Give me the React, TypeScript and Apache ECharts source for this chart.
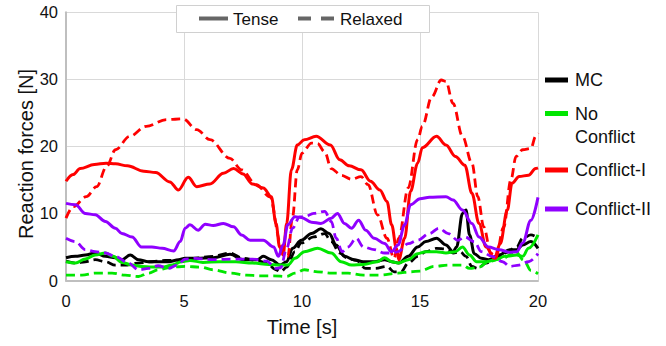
import React, { useEffect, useRef } from "react";
import * as echarts from "echarts";

type Pt = [number, number];

const FONT = "'Liberation Sans', Arial, sans-serif";

const xTicks = [0, 5, 10, 15, 20];
const yTicks = [0, 10, 20, 30, 40];
const xTitle = "Time [s]";
const yTitle = "Reaction forces [N]";

const groups = ["MC", "No Conflict", "Conflict-I", "Conflict-II"];
const groupColors = ["#000000", "#00e600", "#ff0000", "#9000ff"];
const styles = ["Tense", "Relaxed"];

const mcTense: Pt[] = [[0,3.4],[0.4,3.6],[0.82,3.8],[1.24,4.1],[1.67,3.6],[2.09,3.4],[2.37,3.1],[2.72,3.8],[3.07,3.1],[3.5,2.8],[3.9,2.8],[4.35,2.8],[4.77,3.1],[5.05,3.3],[5.54,3.3],[6.24,3.4],[6.95,3.9],[7.5,3.1],[8.1,3.1],[8.36,3.6],[8.7,3.1],[9.07,2.3],[9.35,2.8],[9.6,4.8],[9.97,6.0],[10.4,7.0],[10.8,7.7],[11.15,7.0],[11.45,5.3],[11.8,3.6],[12.2,3.1],[12.6,2.8],[13.06,2.8],[13.5,3.1],[13.8,2.8],[14.1,2.6],[14.5,3.6],[14.9,5.0],[15.25,5.8],[15.7,6.3],[16.1,5.3],[16.4,4.3],[16.55,5.0],[16.8,10.0],[16.95,10.5],[17.1,6.8],[17.3,4.0],[17.6,3.3],[17.9,3.1],[18.35,3.8],[18.8,4.6],[19.1,4.6],[19.35,5.3],[19.7,5.8],[20,4.8]];
const mcRelaxed: Pt[] = [[0,2.9],[0.4,2.6],[0.82,2.8],[1.24,3.1],[1.67,2.8],[2.09,2.3],[2.5,2.3],[3.07,2.6],[3.64,2.8],[4.2,3.0],[4.6,3.0],[5.05,3.1],[5.4,3.3],[6.24,3.6],[6.95,4.1],[7.5,3.3],[8.1,3.0],[8.5,2.6],[8.9,1.6],[9.1,1.3],[9.35,2.0],[9.7,4.3],[9.97,5.6],[10.5,6.5],[10.96,7.0],[11.24,5.8],[11.6,4.1],[11.95,3.3],[12.3,3.0],[12.7,1.8],[13.1,1.8],[13.6,2.1],[13.9,1.3],[14.2,1.3],[14.5,2.6],[14.9,3.6],[15.25,4.3],[15.7,4.8],[16.1,4.7],[16.4,4.1],[16.7,4.3],[16.95,3.6],[17.2,2.1],[17.45,1.8],[17.8,2.6],[18.2,3.3],[18.6,4.1],[19.1,5.0],[19.35,6.3],[19.7,6.8],[20,6.3]];
const ncTense: Pt[] = [[0,2.8],[0.4,2.6],[0.82,3.2],[1.24,3.8],[1.67,4.1],[2.0,3.6],[2.37,2.7],[2.8,2.3],[3.2,2.1],[3.64,2.0],[4.07,2.0],[4.5,2.3],[4.9,2.8],[5.25,3.0],[5.8,2.7],[6.5,2.8],[7.2,2.8],[7.9,2.6],[8.6,2.4],[9.07,2.3],[9.4,2.3],[9.7,3.3],[10.1,4.3],[10.66,4.8],[11.24,4.1],[11.66,2.8],[12.1,2.3],[12.6,2.4],[13.2,2.8],[13.5,3.4],[13.8,2.8],[14.07,2.6],[14.5,3.1],[14.9,4.0],[15.25,4.3],[15.7,4.3],[16.1,4.1],[16.5,4.3],[16.8,5.0],[17.1,3.8],[17.4,2.8],[17.8,2.8],[18.2,3.1],[18.6,3.6],[19.1,3.8],[19.35,3.6],[19.6,4.8],[20,6.8]];
const ncRelaxed: Pt[] = [[0,0.8],[0.68,0.8],[1.24,1.1],[1.95,1.1],[2.5,0.8],[3.07,0.6],[3.5,1.1],[3.9,1.6],[4.5,2.0],[5.05,2.1],[5.7,2.0],[6.24,1.6],[6.95,1.1],[7.65,0.8],[8.2,0.7],[8.8,0.7],[9.35,0.6],[9.7,1.1],[10.1,1.6],[10.66,1.3],[11.24,1.1],[11.95,1.1],[12.6,0.8],[13.3,0.8],[14.07,1.1],[14.6,1.3],[15.0,1.4],[15.6,2.1],[16.2,2.3],[16.8,2.3],[17.1,1.8],[17.5,2.0],[17.9,2.8],[18.5,3.3],[19.05,4.3],[19.4,3.0],[19.7,1.5],[20,1.0]];
const c1Tense: Pt[] = [[0,14.8],[0.3,15.8],[0.6,16.7],[1.2,17.3],[1.7,17.5],[2.1,17.4],[2.6,17.1],[3.3,16.3],[3.8,16.1],[4.4,14.7],[4.76,13.5],[5.18,15.4],[5.54,14.0],[6.1,14.4],[6.67,16.0],[7.1,16.7],[7.5,15.9],[7.9,14.4],[8.36,13.8],[8.7,12.5],[8.9,8.5],[9.05,5.0],[9.2,3.8],[9.35,8.5],[9.55,16.5],[9.8,20.2],[10.1,21.0],[10.6,21.5],[11.2,20.2],[11.6,18.0],[12.0,17.1],[12.5,16.5],[12.9,14.8],[13.3,13.5],[13.6,11.8],[13.8,8.3],[14.0,4.8],[14.1,3.1],[14.35,6.3],[14.6,13.3],[14.9,17.5],[15.1,19.8],[15.7,21.5],[16.1,20.2],[16.5,18.5],[16.9,17.2],[17.2,13.0],[17.5,8.5],[17.8,5.0],[18.15,3.3],[18.4,5.5],[18.7,10.5],[18.9,14.5],[19.2,15.5],[19.6,15.7],[19.9,16.7],[20,16.8]];
const c1Relaxed: Pt[] = [[0,9.3],[0.3,11.0],[0.86,12.5],[1.3,14.0],[1.72,17.0],[2.1,19.5],[2.7,21.5],[3.4,23.0],[4.27,24.0],[4.97,24.1],[5.54,22.5],[6.1,21.0],[6.95,18.2],[7.44,16.5],[8.06,14.3],[8.64,12.5],[9.07,6.0],[9.25,3.8],[9.4,3.6],[9.6,9.5],[9.8,16.5],[10.0,19.0],[10.4,20.5],[10.66,20.4],[10.96,19.2],[11.24,16.7],[11.66,15.7],[12.1,15.1],[12.5,15.5],[12.8,14.3],[13.2,9.8],[13.6,6.3],[13.9,3.3],[14.1,6.3],[14.5,13.8],[14.9,21.0],[15.1,23.0],[15.5,27.4],[15.9,29.9],[16.1,29.7],[16.4,26.4],[16.8,21.5],[17.2,17.5],[17.45,12.5],[17.7,8.0],[18.0,4.1],[18.2,3.3],[18.55,8.0],[18.85,15.0],[19.07,18.5],[19.35,19.5],[19.7,19.7],[19.9,21.5],[20,22.0]];
const c2Tense: Pt[] = [[0,11.5],[0.4,11.3],[0.82,10.0],[1.24,9.8],[1.67,8.8],[2.09,7.8],[2.37,7.0],[2.8,6.5],[3.2,5.0],[3.64,5.0],[4.07,4.8],[4.56,4.4],[4.84,5.8],[5.05,7.8],[5.25,8.3],[5.6,7.5],[5.9,8.4],[6.24,8.2],[6.67,8.5],[7.1,8.0],[7.44,6.8],[7.8,6.0],[8.36,6.0],[8.8,5.0],[9.0,3.6],[9.2,5.3],[9.4,8.3],[9.7,9.5],[9.97,9.4],[10.4,8.7],[10.8,8.5],[11.24,9.3],[11.5,10.0],[11.8,8.5],[12.1,7.8],[12.4,9.0],[12.7,7.5],[13.06,6.3],[13.5,5.5],[13.8,4.3],[14.07,5.3],[14.35,8.3],[14.6,11.3],[15.0,12.2],[15.4,12.4],[16.1,12.5],[16.4,12.0],[16.8,10.5],[17.2,8.5],[17.5,6.5],[17.9,5.0],[18.35,4.6],[18.8,4.2],[19.1,4.3],[19.35,5.6],[19.7,9.0],[20,12.4]];
const c2Relaxed: Pt[] = [[0,6.3],[0.4,5.8],[0.82,4.6],[1.24,4.3],[1.67,4.1],[2.09,3.6],[2.65,2.6],[3.07,1.6],[3.5,1.8],[3.9,2.2],[4.35,1.8],[4.7,2.3],[5.05,3.2],[5.5,3.3],[6.24,3.1],[7.0,3.2],[7.9,3.2],[8.5,2.9],[8.9,1.8],[9.1,1.9],[9.35,4.8],[9.6,7.8],[9.9,9.5],[10.1,9.5],[10.5,10.0],[10.96,10.3],[11.24,8.8],[11.45,6.3],[11.7,4.3],[11.95,5.0],[12.3,6.3],[12.6,5.0],[13.06,4.6],[13.5,4.1],[13.8,4.1],[14.07,4.3],[14.5,5.5],[14.9,6.0],[15.4,7.0],[15.8,7.8],[16.2,7.0],[16.6,6.0],[16.9,6.5],[17.3,5.8],[17.6,4.3],[18.05,3.6],[18.5,2.8],[18.8,2.1],[19.2,2.3],[19.6,2.8],[20,4.0]];

const seriesData: Pt[][][] = [
  [mcTense, mcRelaxed],
  [ncTense, ncRelaxed],
  [c1Tense, c1Relaxed],
  [c2Tense, c2Relaxed],
];

export default function App() {
  const ref = useRef<HTMLDivElement>(null);
  useEffect(() => {
    if (!ref.current) return;
    const chart = echarts.init(ref.current, null, { renderer: "svg" });
    const series: any[] = [];
    groups.forEach((g, gi) => {
      styles.forEach((s, si) => {
        series.push({
          name: `${g} (${s})`,
          type: "line",
          data: seriesData[gi][si],
          showSymbol: false,
          symbol: "none",
          smooth: 0.35,
          smoothMonotone: "x",
          z: 2 + gi,
          lineStyle: {
            color: groupColors[gi],
            width: si === 0 ? 3 : 2.8,
            type: si === 0 ? "solid" : [9, 5],
            cap: "butt",
          },
        });
      });
    });

    const graphic: any[] = [
      { type: "rect", z: 100, shape: { x: 176.5, y: 5.5, width: 253, height: 27 }, style: { fill: "#fff", stroke: "#d0d0d0", lineWidth: 1 } },
      { type: "line", z: 101, shape: { x1: 199, y1: 18.5, x2: 228, y2: 18.5 }, style: { stroke: "#666", lineWidth: 4 } },
      { type: "text", z: 101, x: 233, y: 19, style: { text: styles[0], font: `17px ${FONT}`, fill: "#111", verticalAlign: "middle" } },
      { type: "line", z: 101, shape: { x1: 298, y1: 18.5, x2: 335, y2: 18.5 }, style: { stroke: "#666", lineWidth: 4, lineDash: [13, 10] } },
      { type: "text", z: 101, x: 340, y: 19, style: { text: styles[1], font: `17px ${FONT}`, fill: "#111", verticalAlign: "middle" } },
      { type: "text", z: 101, x: 26, y: 154, rotation: Math.PI / 2, style: { text: yTitle, font: `20px ${FONT}`, fill: "#111", align: "center", verticalAlign: "middle" } },
    ];
    const legendY = [80, 113.5, 170, 209];
    const legendLabels = ["MC", "No\nConflict", "Conflict-I", "Conflict-II"];
    groups.forEach((g, gi) => {
      graphic.push({ type: "rect", z: 101, shape: { x: 545, y: legendY[gi] - 2.5, width: 23, height: 5 }, style: { fill: groupColors[gi] } });
      graphic.push({
        type: "text", z: 101, x: 575, y: legendY[gi] - 11.5,
        style: { text: legendLabels[gi], font: `18px ${FONT}`, fill: "#111", verticalAlign: "top", lineHeight: 23 },
      });
    });

    chart.setOption({
      animation: false,
      backgroundColor: "#fff",
      grid: { left: 66, right: 128, top: 12.3, bottom: 65.5, containLabel: false },
      xAxis: {
        type: "value", min: xTicks[0], max: xTicks[xTicks.length - 1], interval: 5,
        name: xTitle, nameLocation: "middle", nameGap: 36,
        nameTextStyle: { fontFamily: FONT, fontSize: 20, color: "#111" },
        axisLine: { show: true, lineStyle: { color: "#bfbfbf", width: 2 } },
        axisTick: { show: false },
        axisLabel: { fontFamily: FONT, fontSize: 16.5, color: "#111", margin: 12 },
        splitLine: { show: true, lineStyle: { color: "#d9d9d9", width: 1 } },
      },
      yAxis: {
        type: "value", min: yTicks[0], max: yTicks[yTicks.length - 1], interval: 10,
        axisLine: { show: true, lineStyle: { color: "#bfbfbf", width: 2 } },
        axisTick: { show: false },
        axisLabel: { fontFamily: FONT, fontSize: 16.5, color: "#111", margin: 8 },
        splitLine: { show: true, lineStyle: { color: "#d9d9d9", width: 1 } },
      },
      series,
      graphic,
    });
    return () => chart.dispose();
  }, []);
  return <div ref={ref} style={{ position: "fixed", left: 0, top: 0, width: 666, height: 346 }} />;
}
